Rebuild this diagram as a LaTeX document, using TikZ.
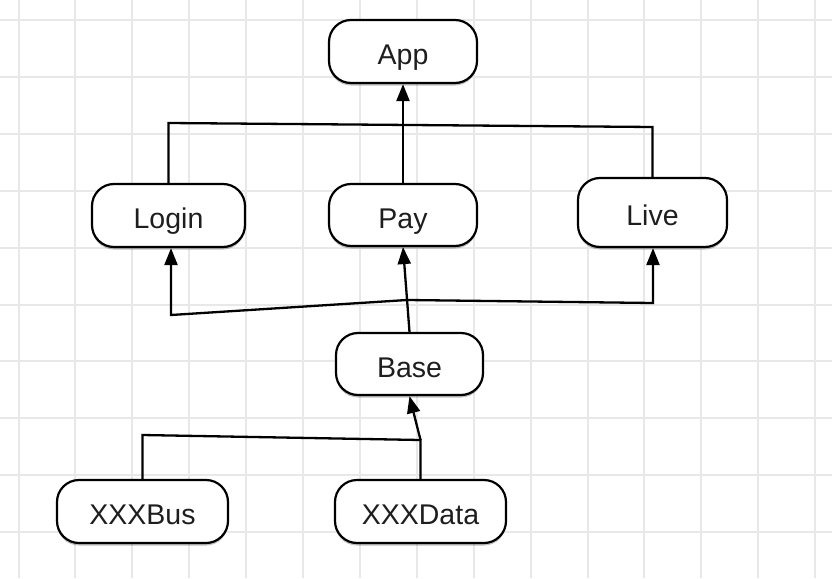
\documentclass[tikz,border=0pt]{standalone}
\usepackage{fontspec}
\setmainfont{Liberation Sans}
\usetikzlibrary{arrows.meta,shadows}
\definecolor{gridgray}{HTML}{E8E8E8}
\definecolor{txtgray}{HTML}{1E1E1E}
\tikzset{
  modbox/.style={draw=black, line width=2.2pt, fill=white, rounded corners=22pt,
    minimum height=63pt, inner sep=0pt, text=txtgray,
    text height=26pt, text depth=0pt,
    font=\fontsize{28.5}{30}\selectfont,
    drop shadow={shadow xshift=0pt, shadow yshift=-2.5pt, opacity=0.25, fill=black}},
  link/.style={draw=black, line width=2.3pt, line join=miter},
  arr/.style={link, -{Triangle[length=17pt,width=13pt]}},
}
\begin{document}
\begin{tikzpicture}[x=1pt,y=1pt]
\useasboundingbox (0,0) rectangle (832,-578);
\fill[white] (0,0) rectangle (832,-578);
% grid
\foreach \k in {0,...,14} \draw[gridgray, line width=2pt] ({18.5+56.9*\k},0) -- ({18.5+56.9*\k},-578);
\foreach \k in {0,...,9} \draw[gridgray, line width=2pt] (0,{-20-56.9*\k}) -- (832,{-20-56.9*\k});
% nodes
\node[modbox, minimum width=148pt] (App) at (403,-51.5) {App};
\node[modbox, minimum width=153pt] (Login) at (168.5,-215.5) {Login};
\node[modbox, minimum width=148pt, minimum height=62pt] (Pay) at (403,-215) {Pay};
\node[modbox, minimum width=149pt, minimum height=69pt] (Live) at (652.5,-212.5) {Live};
\node[modbox, minimum width=147pt, minimum height=62pt] (Base) at (409.5,-364) {Base};
\node[modbox, minimum width=171pt] (Bus) at (142.5,-511.5) {XXXBus};
\node[modbox, minimum width=171pt] (Data) at (420.5,-511.5) {XXXData};
% junction points
\coordinate (tl) at (168.5,-123);
\coordinate (tr) at (652.5,-127);
\coordinate (jm) at (407,-300);
\coordinate (jl) at (171,-315);
\coordinate (jr) at (653,-303);
\coordinate (bl) at (142.5,-435);
\coordinate (br) at (420.5,-440);
% upper connectors
\draw[link] (Login.north) -- (tl) -- (tr) -- (Live.north);
\draw[arr] (Pay.north) -- (App.south);
% middle connectors
\draw[arr] (Base.north) -- (Pay.south);
\draw[arr] (jm) -- (jl) -- (jl |- Login.south);
\draw[arr] (jm) -- (jr) -- (jr |- Live.south);
% lower connectors
\draw[link] (Bus.north) -- (bl) -- (br) -- (Data.north);
\draw[arr] (br) -- (Base.south);
\end{tikzpicture}
\end{document}
